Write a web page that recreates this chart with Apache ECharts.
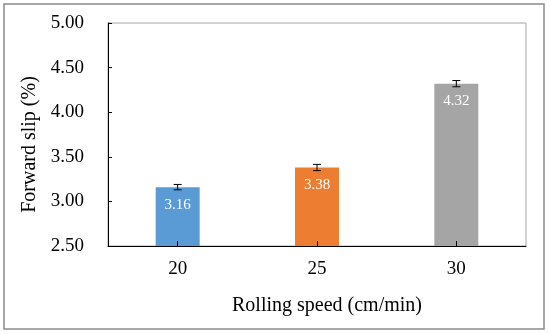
<!DOCTYPE html>
<html>
<head>
<meta charset="utf-8">
<script src="https://cdn.jsdelivr.net/npm/echarts@6/dist/echarts.min.js"></script>
<style>
html,body{margin:0;padding:0;background:#fff;}
#chart{width:550px;height:334px;}
</style>
</head>
<body>
<div id="chart"></div>
<script>
var categories = ['20', '25', '30'];
var values = [3.16, 3.38, 4.32];
var errors = [0.03, 0.035, 0.035];
var colors = ['#5B9BD5', '#ED7D31', '#A5A5A5'];

var font = "'Liberation Serif', 'Times New Roman', serif";
var chart = echarts.init(document.getElementById('chart'), null, {renderer: 'canvas'});

var barData = values.map(function (v, i) {
  return {value: v, itemStyle: {color: colors[i]}};
});
var errData = values.map(function (v, i) {
  return [i, v - errors[i], v + errors[i]];
});

chart.setOption({
  animation: false,
  backgroundColor: '#fff',
  textStyle: {fontFamily: font},
  graphic: [{
    type: 'rect',
    shape: {x: 4, y: 4, width: 540, height: 325},
    style: {fill: 'none', stroke: '#8a8a8a', lineWidth: 1.5},
    z: -1
  }],
  grid: {
    left: 108, top: 23, right: 24, bottom: 88,
    show: true, borderColor: '#a6a6a6', borderWidth: 1
  },
  xAxis: {
    type: 'category',
    data: categories,
    z: 10,
    axisLine: {lineStyle: {color: '#000', width: 1}},
    axisTick: {show: true, alignWithLabel: true, inside: true, length: 5, lineStyle: {color: '#000'}},
    axisLabel: {color: '#000', fontFamily: font, fontSize: 19, margin: 14},
    name: 'Rolling speed (cm/min)',
    nameLocation: 'middle',
    nameGap: 50,
    nameTextStyle: {color: '#000', fontFamily: font, fontSize: 20, padding: [0, 0, 0, 20]}
  },
  yAxis: {
    type: 'value',
    min: 2.5, max: 5, interval: 0.5,
    z: 10,
    axisLine: {show: true, lineStyle: {color: '#000', width: 1}},
    axisTick: {show: true, inside: true, length: 4, lineStyle: {color: '#000'}},
    splitLine: {show: false},
    axisLabel: {color: '#000', fontFamily: font, fontSize: 19, margin: 24,
      formatter: function (v) { return v.toFixed(2); }},
    name: 'Forward slip (%)',
    nameLocation: 'middle',
    nameGap: 68,
    nameTextStyle: {color: '#000', fontFamily: font, fontSize: 20, padding: [0, 20, 0, 0]}
  },
  series: [{
    type: 'bar',
    data: barData,
    barWidth: 44,
    label: {
      show: true, position: 'insideTop', distance: 10,
      color: '#fff', fontFamily: font, fontSize: 15,
      formatter: function (p) { return p.value.toFixed(2); }
    }
  }, {
    type: 'custom',
    data: errData,
    z: 5,
    renderItem: function (params, api) {
      var x = api.value(0);
      var lo = api.coord([x, api.value(1)]);
      var hi = api.coord([x, api.value(2)]);
      var hw = 4;
      var st = {stroke: '#000', lineWidth: 1};
      return {
        type: 'group',
        children: [
          {type: 'line', shape: {x1: lo[0], y1: lo[1], x2: hi[0], y2: hi[1]}, style: st},
          {type: 'line', shape: {x1: lo[0] - hw, y1: lo[1], x2: lo[0] + hw, y2: lo[1]}, style: st},
          {type: 'line', shape: {x1: hi[0] - hw, y1: hi[1], x2: hi[0] + hw, y2: hi[1]}, style: st}
        ]
      };
    }
  }]
});
</script>
</body>
</html>
